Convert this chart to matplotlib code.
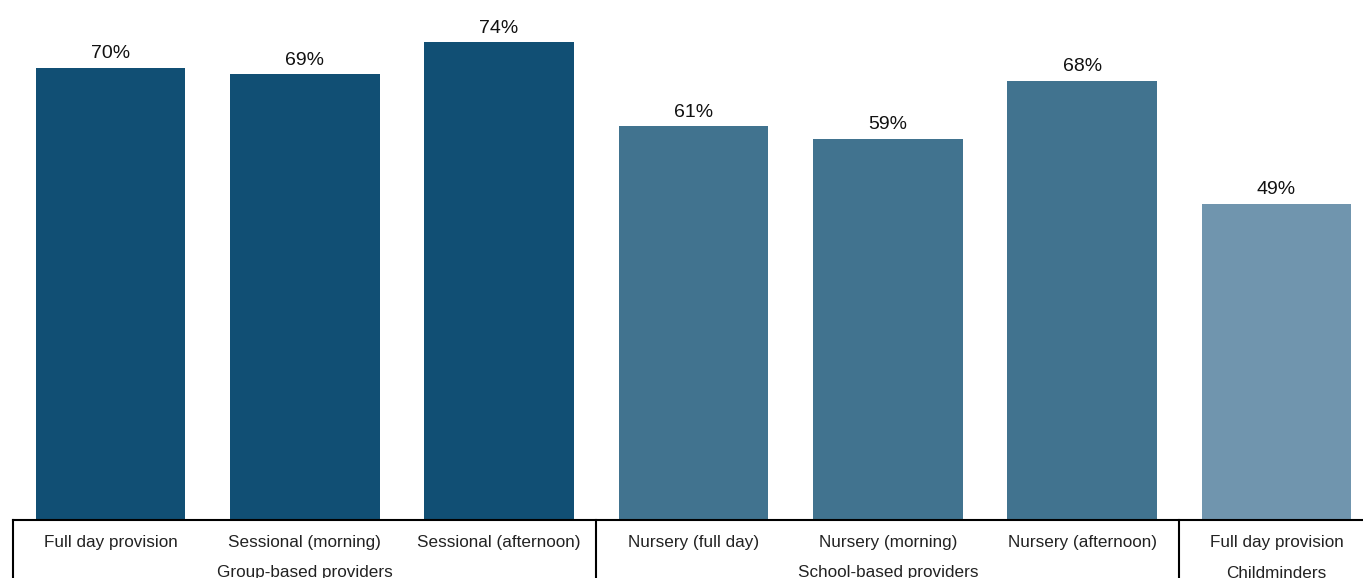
import matplotlib
matplotlib.use("Agg")
from matplotlib import pyplot as plt

categories = ['Full day provision', 'Sessional (morning)', 'Sessional (afternoon)',
              'Nursery (full day)', 'Nursery (morning)', 'Nursery (afternoon)',
              'Full day provision']
values = [70, 69, 74, 61, 59, 68, 49]
groups = ['Group-based providers', 'School-based providers', 'Childminders']
group_members = [[0, 1, 2], [3, 4, 5], [6]]
group_colors = ['#114f74', '#41738f', '#7095ae']

plt.rcParams['font.family'] = ['Liberation Sans', 'DejaVu Sans']

W, H = 1363, 578
fig = plt.figure(figsize=(W / 100, H / 100), dpi=100)
ax = fig.add_axes([13.3 / W, 58 / H, 1360.3 / W, 516.6 / H])

colors = []
for g, members in enumerate(group_members):
    colors += [group_colors[g]] * len(members)

x = list(range(len(values)))
bars = ax.bar(x, values, width=0.77, color=colors)
ax.bar_label(bars, labels=[f'{v}%' for v in values], padding=4, fontsize=14,
             color='#111111')

ax.set_xlim(-0.5, len(values) - 0.5)
ax.set_ylim(0, 80)
ax.set_yticks([])
ax.set_xticks([])
for s in ['left', 'right', 'top']:
    ax.spines[s].set_visible(False)
ax.spines['bottom'].set_linewidth(1.5)
ax.spines['bottom'].set_color('black')

# category labels under the axis
for i, c in enumerate(categories):
    ax.annotate(c, xy=(i, 0), xytext=(0, -22), textcoords='offset pixels',
                ha='center', va='center', fontsize=12.3, color='#222222',
                annotation_clip=False)

# group labels and separators
for g, members in enumerate(group_members):
    mid = (members[0] + members[-1]) / 2
    ax.annotate(groups[g], xy=(mid, 0), xytext=(0, -53), textcoords='offset pixels',
                ha='center', va='center', fontsize=12.3, color='#222222',
                annotation_clip=False)
    left = members[0] - 0.5
    ax.plot([left, left], [0, -10], color='black', lw=1.5, clip_on=False)

fig.savefig('out.png', dpi=100)
